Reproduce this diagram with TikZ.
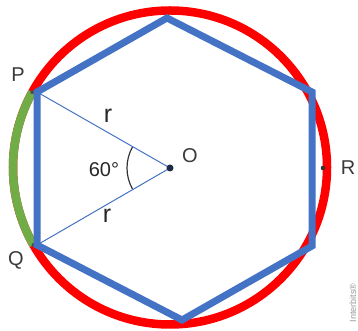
\documentclass[tikz,border=0pt]{standalone}
\usepackage{fontspec}
\setmainfont{Liberation Sans}
\usetikzlibrary{calc}
\definecolor{hexblue}{HTML}{4472C4}
\definecolor{arcgreen}{HTML}{70AD47}
\definecolor{circred}{HTML}{FF0000}
\definecolor{labelgray}{HTML}{3A3A3A}
\definecolor{dotnavy}{HTML}{1F2A44}
\tikzset{
  circleline/.style={draw=circred, line width=8.5pt},
  hexline/.style={draw=hexblue, line width=7pt, line join=miter},
  radiusline/.style={draw=hexblue, line width=1pt},
  greenarc/.style={draw=arcgreen, line width=8.5pt},
  ptlabel/.style={text=labelgray, font=\fontsize{20}{20}\selectfont, inner sep=0pt},
  rlabel/.style={text=black!85, font=\fontsize{25}{25}\selectfont, inner sep=0pt},
  anglabel/.style={text=black!85, font=\fontsize{20}{20}\selectfont, inner sep=0pt},
  anglemark/.style={draw=black!80, line width=1.2pt},
  markdot/.style={fill=black!70, draw=none},
}
\begin{document}
\begin{tikzpicture}[x=1pt,y=1pt]
\useasboundingbox (0,0) rectangle (358,331);
\coordinate (C) at (170,163.5);
\coordinate (O) at (170,163);
% hexagon vertices
\coordinate (T) at (167,313);
\coordinate (UR) at (312,239);
\coordinate (LR) at (312,85);
\coordinate (B) at (182,11);
\coordinate (QV) at (37,86);
\coordinate (PV) at (37,239);
% circle points
\coordinate (PC) at ($(C)+(151.3:157)$);
\coordinate (QC) at ($(C)+(209.6:157)$);
\coordinate (RD) at (323,163);
% red circle
\draw[circleline] (C) circle[radius=157];
% green arc
\draw[greenarc] (PC) arc[start angle=151.3, end angle=209.6, radius=157];
\fill[markdot] (PC) circle[radius=2];
\fill[markdot] (QC) circle[radius=2];
% hexagon
\draw[hexline] (T) -- (UR) -- (LR) -- (B) -- (QV) -- (PV) -- cycle;
% radii
\draw[radiusline] (PV) -- (O);
\draw[radiusline] (QV) -- (O);
% angle mark
\draw[anglemark] ($(O)+(151:43)$) arc[start angle=151, end angle=209, radius=43];
% dots
\fill[dotnavy] (O) circle[radius=3.5];
\fill[black!80] (RD) circle[radius=2.3];
% labels
\node[ptlabel] (Plab) at (18,256) {P};
\node[ptlabel] (Qlab) at (16,71) {Q};
\node[ptlabel] (Olab) at (190,175) {O};
\node[ptlabel] (Rlab) at (348,163) {R};
\node[rlabel] (r1) at (108,215) {r};
\node[rlabel] (r2) at (107,115) {r};
\node[anglabel] (ang) at (104,161) {60°};
\node[text=black!40, font=\fontsize{9}{9}\selectfont, rotate=90, inner sep=0pt] (wm) at (353,28) {Interbits®};
\end{tikzpicture}
\end{document}
